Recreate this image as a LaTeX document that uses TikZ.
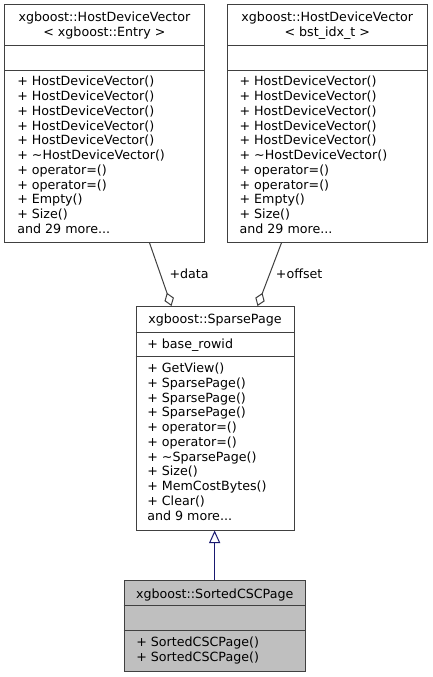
\documentclass[tikz,border=0pt]{standalone}
\usepackage{fontspec}
\setmainfont{DejaVu Sans}
\usetikzlibrary{arrows.meta,fit,calc}
\definecolor{edgegray}{HTML}{404040}
\definecolor{inhblue}{HTML}{191970}
\definecolor{hlgray}{HTML}{BFBFBF}
\newcommand{\tdots}{...}
\begin{document}
\begin{tikzpicture}[x=0.75pt,y=-0.75pt,
  classbox/.style={draw=edgegray, line width=0.75pt, inner sep=0pt},
  txt/.style={font=\fontsize{9.5}{11}\selectfont, inner sep=0pt, anchor=base west, text=black},
  ttl/.style={txt, anchor=base},
  sepline/.style={draw=edgegray, line width=0.75pt},
  aggr/.style={draw=edgegray, line width=0.75pt, -{Diamond[open, length=10.5pt, width=7.5pt]}},
  inh/.style={draw=inhblue, line width=0.75pt, -{Triangle[open, length=9.4pt, width=8.3pt]}}]
\useasboundingbox (0,0) rectangle (432,677);
\fill[white] (0,0) rectangle (432,677);

% ---------- boxes ----------
\node[classbox, fit={(4.7,4.7) (204,242.3)}] (boxL) {};
\node[classbox, fit={(227.5,4.7) (427,242.3)}] (boxR) {};
\node[classbox, fit={(136,306.5) (294,530)}] (boxS) {};
\node[classbox, fill=hlgray, fit={(124,580.5) (305.3,671)}] (boxC) {};

% ---------- separators ----------
\draw[sepline] ($(boxL.north west)+(0,41)$) -- ($(boxL.north east)+(0,41)$);
\draw[sepline] ($(boxL.north west)+(0,66)$) -- ($(boxL.north east)+(0,66)$);
\draw[sepline] ($(boxR.north west)+(0,41)$) -- ($(boxR.north east)+(0,41)$);
\draw[sepline] ($(boxR.north west)+(0,66)$) -- ($(boxR.north east)+(0,66)$);
\draw[sepline] ($(boxS.north west)+(0,26.5)$) -- ($(boxS.north east)+(0,26.5)$);
\draw[sepline] ($(boxS.north west)+(0,50.5)$) -- ($(boxS.north east)+(0,50.5)$);
\draw[sepline] ($(boxC.north west)+(0,25.2)$) -- ($(boxC.north east)+(0,25.2)$);
\draw[sepline] ($(boxC.north west)+(0,50.5)$) -- ($(boxC.north east)+(0,50.5)$);

% ---------- titles ----------
\node[ttl] (tL1) at (104.4,22) {xgboost::HostDeviceVector};
\node[ttl] (tL2) at (104.4,36.7) {< xgboost::Entry >};
\node[ttl] (tR1) at (327.3,22) {xgboost::HostDeviceVector};
\node[ttl] (tR2) at (327.3,36.7) {< bst\_idx\_t >};
\node[ttl] (tS) at (215,323.5) {xgboost::SparsePage};
\node[ttl] (tC) at (214.7,598) {xgboost::SortedCSCPage};

% ---------- members ----------
\foreach \t [count=\i from 0] in {{+ HostDeviceVector()}, {+ HostDeviceVector()}, {+ HostDeviceVector()}, {+ HostDeviceVector()}, {+ HostDeviceVector()}, {+ \textasciitilde HostDeviceVector()}, {+ operator=()}, {+ operator=()}, {+ Empty()}, {+ Size()}, {and 29 more\tdots}}
  \node[txt] (mL\i) at (17,86+14.75*\i) {\t};
\foreach \t [count=\i from 0] in {{+ HostDeviceVector()}, {+ HostDeviceVector()}, {+ HostDeviceVector()}, {+ HostDeviceVector()}, {+ HostDeviceVector()}, {+ \textasciitilde HostDeviceVector()}, {+ operator=()}, {+ operator=()}, {+ Empty()}, {+ Size()}, {and 29 more\tdots}}
  \node[txt] (mR\i) at (239.3,86+14.75*\i) {\t};
\node[txt] (aS) at (147,348.5) {+ base\_rowid};
\foreach \t [count=\i from 0] in {{+ GetView()}, {+ SparsePage()}, {+ SparsePage()}, {+ SparsePage()}, {+ operator=()}, {+ operator=()}, {+ \textasciitilde SparsePage()}, {+ Size()}, {+ MemCostBytes()}, {+ Clear()}, {and 9 more\tdots}}
  \node[txt] (mS\i) at (147,372.7+14.75*\i) {\t};
\node[txt] (mC0) at (136,646.5) {+ SortedCSCPage()};
\node[txt] (mC1) at (136,661) {+ SortedCSCPage()};

% ---------- connectors ----------
\draw[aggr] ($(boxL.south west)+(145.3,0)$) -- ($(boxS.north west)+(36,0)$);
\draw[aggr] ($(boxR.south west)+(54.5,0)$) -- ($(boxS.north west)+(122,0)$);
\node[txt] (lData) at (169.3,278.8) {+data};
\node[txt] (lOff) at (275.7,278.8) {+offset};
\draw[inh] (boxC.north) -- (boxC.north |- boxS.south);
\end{tikzpicture}
\end{document}
